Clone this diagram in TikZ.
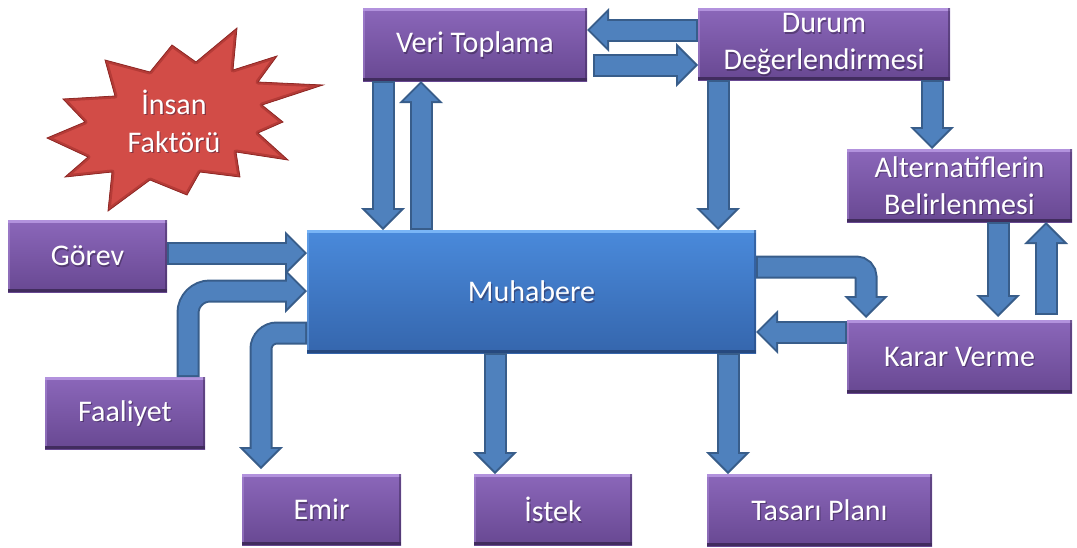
\documentclass[tikz,border=0pt]{standalone}
\usepackage{fontspec}
\setmainfont{Carlito}
\usetikzlibrary{arrows.meta}

\definecolor{purpletop}{HTML}{8B67BA}
\definecolor{purplebot}{HTML}{684892}
\definecolor{purplehi}{HTML}{B292DD}
\definecolor{purplelo}{HTML}{412C5E}
\definecolor{bluetop}{HTML}{4A8ADB}
\definecolor{bluebot}{HTML}{3566AD}
\definecolor{bluehi}{HTML}{79B5F6}
\definecolor{bluelo}{HTML}{26497F}
\definecolor{arrowfill}{HTML}{4F81BD}
\definecolor{arrowedge}{HTML}{385D8A}
\definecolor{burstfill}{HTML}{D24C47}
\definecolor{burstinner}{HTML}{B53B37}
\definecolor{burstedge}{HTML}{8E2926}
\definecolor{textshade}{HTML}{2A1A3A}

\tikzset{
  bevelbox/.style n args={4}{rectangle, inner sep=0pt, outer sep=0pt,
    top color=#1, bottom color=#2,
    path picture={
      \fill[#3] (path picture bounding box.north west) rectangle ([yshift=-2.5pt]path picture bounding box.north east);
      \fill[#3, opacity=0.45] (path picture bounding box.north west) rectangle ([xshift=2pt]path picture bounding box.south west);
      \fill[#4] (path picture bounding box.south west) rectangle ([yshift=3pt]path picture bounding box.south east);
      \fill[#4, opacity=0.55] ([xshift=-2.5pt]path picture bounding box.north east) rectangle (path picture bounding box.south east);
    }},
  pbox/.style={bevelbox={purpletop}{purplebot}{purplehi}{purplelo}},
  bbox/.style={bevelbox={bluetop}{bluebot}{bluehi}{bluelo}},
  dims/.style 2 args={minimum width=#1pt, minimum height=#2pt},
  labeltext/.style={text=white, align=center, inner sep=0pt,
    font=\fontsize{30}{37}\selectfont},
  labelshade/.style={labeltext, text=textshade, opacity=0.45},
  flow/.style={line width=19pt, draw=arrowfill,
    shorten <=2pt, shorten >=2.8pt,
    -{Triangle[length=17.2pt, width=34.3pt, line width=0pt]},
    preaction={draw=arrowedge, line width=23pt, shorten <=0pt, shorten >=0pt,
      -{Triangle[length=22pt, width=44pt, line width=0pt]}}}
}

% white caption with a soft dark shadow, centred on a named node
\newcommand\boxcaption[2]{%
  \node[labelshade] at ([xshift=1.2pt, yshift=-1.5pt]#1.center) {#2};
  \node[labeltext] (#1-text) at (#1.center) {#2};}

% outline of the explosion shape
\newcommand\burstoutline{(237,28) -- (233,70) -- (277,56) -- (258,82) -- (323,85)
  -- (262,105) -- (283,122) -- (258,133) -- (288,160) -- (236,152) -- (240,177)
  -- (200,172) -- (187,195) -- (150,180) -- (108,211) -- (112,172) -- (65,177)
  -- (88,157) -- (47,138) -- (85,122) -- (63,99) -- (115,96) -- (105,60)
  -- (150,72) -- (172,45) -- (196,62) -- cycle}

\begin{document}
\begin{tikzpicture}[x=1pt, y=-1pt]
  \useasboundingbox (0,0) rectangle (1077,547);

  % explosion
  \begin{scope}
    \clip \burstoutline;
    \fill[burstfill] \burstoutline;
    \draw[burstinner, line width=5pt, line join=round] \burstoutline;
  \end{scope}
  \draw[burstedge, line width=0.8pt] \burstoutline;
  \coordinate (insan) at (174,121);
  \boxcaption{insan}{İnsan\\[1pt]Faktörü}

  % boxes
  \node[pbox, dims={224}{73}] (veri)   at (475,44.5)  {};
  \node[pbox, dims={252}{72}] (durum)  at (824,44)    {};
  \node[pbox, dims={225}{73}] (alt)    at (959.5,185.5) {};
  \node[pbox, dims={225}{73}] (karar)  at (959.5,356.5) {};
  \node[bbox, dims={449}{123}] (muh)   at (531.5,291.5) {};
  \node[pbox, dims={159}{72}] (gorev)  at (87.5,256)  {};
  \node[pbox, dims={160}{72}] (faal)   at (125,413)   {};
  \node[pbox, dims={159}{71}] (emir)   at (321.5,509.5) {};
  \node[pbox, dims={158}{71}] (istek)  at (553,509.5) {};
  \node[pbox, dims={225}{72}] (tasari) at (819.5,510) {};

  \boxcaption{veri}{Veri Toplama}
  \boxcaption{durum}{Durum\\Değerlendirmesi}
  \boxcaption{alt}{Alternatiflerin\\Belirlenmesi}
  \boxcaption{karar}{Karar Verme}
  \boxcaption{muh}{Muhabere}
  \boxcaption{gorev}{Görev}
  \boxcaption{faal}{Faaliyet}
  \boxcaption{emir}{Emir}
  \boxcaption{istek}{İstek}
  \boxcaption{tasari}{Tasarı Planı}

  % connectors
  \draw[flow] (durum.west |- 0,30) -- (veri.east |- 0,30);
  \draw[flow] ([xshift=6pt]veri.east |- 0,65) -- (durum.west |- 0,65);
  \draw[flow] (veri.south -| 383,0) -- (muh.north -| 383,0);
  \draw[flow] (muh.north -| 421,0) -- (veri.south -| 421,0);
  \draw[flow] (durum.south -| 718,0) -- (muh.north -| 718,0);
  \draw[flow] (durum.south -| 932,0) -- (alt.north -| 932,0);
  \draw[flow] (alt.south -| 998,0) -- ([yshift=3pt]karar.north -| 998,0);
  \draw[flow] ([yshift=5pt]karar.north -| 1046,0) -- (alt.south -| 1046,0);
  \draw[flow, rounded corners=10pt] (muh.east |- 0,267) -- (866,267) -- ([yshift=2pt]karar.north -| 866,0);
  \draw[flow] (karar.west |- 0,332) -- (muh.east |- 0,332);
  \draw[flow] (gorev.east |- 0,253) -- (muh.west |- 0,253);
  \draw[flow, rounded corners=22pt] (faal.north -| 188,0) -- (188,291) -- (muh.west |- 0,291);
  \draw[flow, rounded corners=16pt] (muh.west |- 0,333) -- (261,333) -- ([yshift=5pt]emir.north -| 261,0);
  \draw[flow] (muh.south -| 495,0) -- (istek.north -| 495,0);
  \draw[flow] (muh.south -| 728,0) -- (tasari.north -| 728,0);
\end{tikzpicture}
\end{document}
